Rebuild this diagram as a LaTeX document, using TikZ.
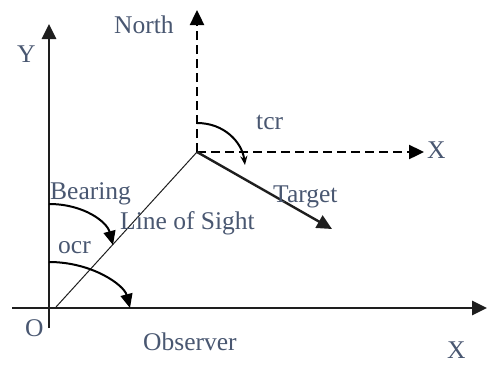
\documentclass[tikz,border=0pt]{standalone}
\usepackage{fontspec}
\setmainfont{Liberation Serif}
\usetikzlibrary{arrows.meta}
\definecolor{txt}{RGB}{73,87,113}
\definecolor{ln}{RGB}{30,30,30}
\begin{document}
\begin{tikzpicture}[x=1pt,y=-1pt,
  lbl/.style={anchor=base west,inner sep=0pt,text=txt,font=\fontsize{25.5}{30}\selectfont},
  axis/.style={draw=ln,line width=2.8pt,-{Triangle[length=15pt,width=14pt]}},
  dashline/.style={draw=black,line width=2.4pt,dash pattern=on 9pt off 5pt,-{Triangle[length=15pt,width=14pt]}},
  arcarrow/.style={draw=black,line width=2pt,-{Triangle[length=14pt,width=12pt]}},
  smallarc/.style={draw=black,line width=2pt,-{Stealth[length=9pt,width=7pt]}}]
\useasboundingbox (0,0) rectangle (487,365);
% coordinates
\coordinate (ybot) at (49,328);
\coordinate (ytop) at (49,24);
\coordinate (xl) at (12,308);
\coordinate (xr) at (487,308);
\coordinate (obs) at (56,307);
\coordinate (tgt) at (197,152);
\coordinate (ntop) at (197,10);
\coordinate (xdash) at (424,152);
\coordinate (tip) at (332,229);
\coordinate (b0) at (49,204);
\coordinate (b1) at (113,245);
\coordinate (o0) at (49,262);
\coordinate (o1) at (130,308);
\coordinate (t0) at (197,123);
\coordinate (t1) at (245,165);
% axes
\draw[axis] (ybot) -- (ytop);
\draw[axis] (xl) -- (xr);
% line of sight
\draw[line width=1pt,ln] (obs) -- (tgt);
% dashed
\draw[dashline] (tgt) -- (ntop);
\draw[dashline] (tgt) -- (xdash);
% target heading
\draw[draw=ln,line width=2.4pt,-{Triangle[length=15pt,width=14pt]}] (tgt) -- (tip);
% arcs
\draw[arcarrow] (b0) .. controls (84,204) and (107,222) .. (b1);
\draw[arcarrow] (o0) .. controls (92,262) and (124,285) .. (o1);
\draw[smallarc] (t0) .. controls (224,123) and (242,142) .. (t1);
% labels
\node[lbl] (ly) at (17,62) {Y};
\node[lbl] (lnorth) at (114,33) {North};
\node[lbl] (ltcr) at (256,129) {tcr};
\node[lbl] (lx1) at (427,158) {X};
\node[lbl] (ltarget) at (273,202) {Target};
\node[lbl] (lbearing) at (50,199) {Bearing};
\node[lbl] (llos) at (120,229) {Line of Sight};
\node[lbl] (locr) at (58,253) {ocr};
\node[lbl] (lo) at (25,336) {O};
\node[lbl] (lobs) at (143,350) {Observer};
\node[lbl] (lx2) at (447,358) {X};
\end{tikzpicture}
\end{document}
